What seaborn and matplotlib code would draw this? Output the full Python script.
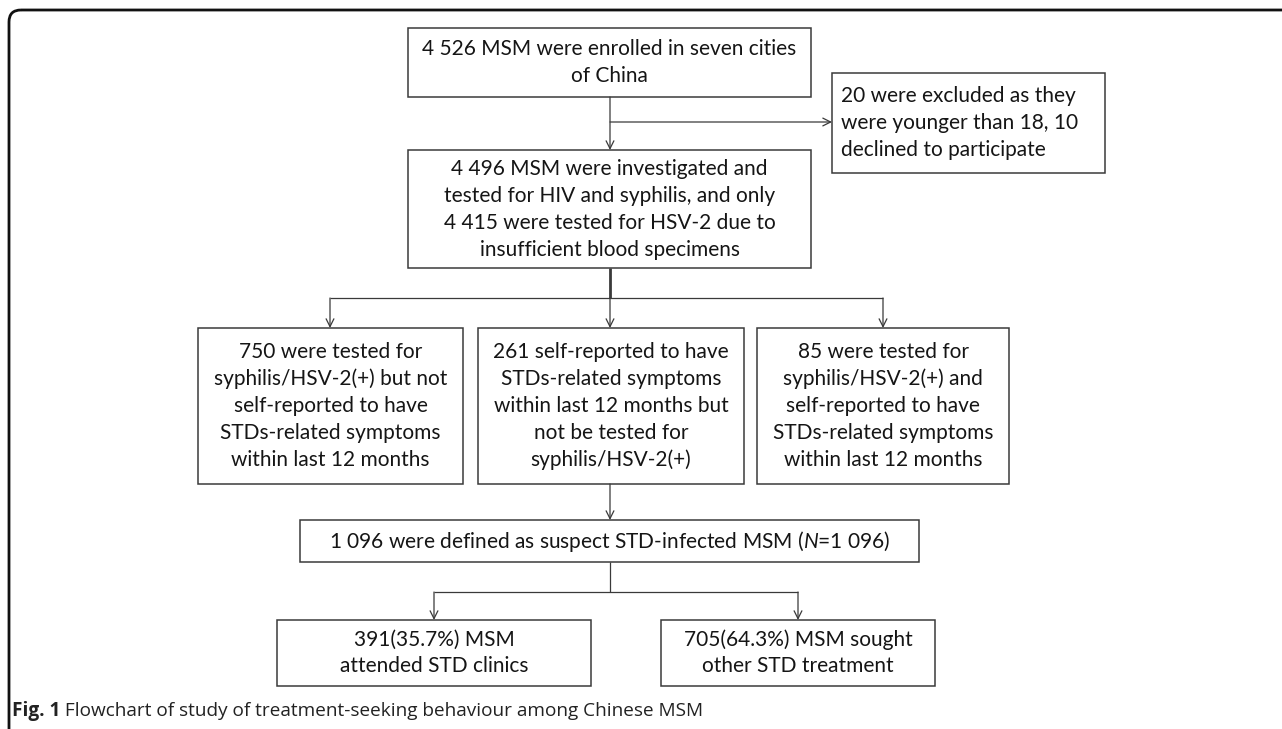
import matplotlib
matplotlib.use('Agg')
import matplotlib.pyplot as plt
import seaborn as sns
from matplotlib.patches import Rectangle, FancyBboxPatch

sns.set_style('white')
plt.rcParams['font.family'] = ['Lato', 'DejaVu Sans']
plt.rcParams['mathtext.fontset'] = 'custom'
plt.rcParams['mathtext.it'] = 'Lato:italic'
plt.rcParams['mathtext.rm'] = 'Lato'

# box texts of the flowchart
enrolled = ['4 526 MSM were enrolled in seven cities', 'of China']
excluded = ['20 were excluded as they', 'were younger than 18, 10', 'declined to participate']
investigated = ['4 496 MSM were investigated and', 'tested for HIV and syphilis, and only',
                '4 415 were tested for HSV-2 due to', 'insufficient blood specimens']
group_a = ['750 were tested for', 'syphilis/HSV-2(+) but not', 'self-reported to have',
           'STDs-related symptoms', 'within last 12 months']
group_b = ['261 self-reported to have', 'STDs-related symptoms', 'within last 12 months but',
           'not be tested for', 'syphilis/HSV-2(+)']
group_c = ['85 were tested for', 'syphilis/HSV-2(+) and', 'self-reported to have',
           'STDs-related symptoms', 'within last 12 months']
suspect = ['1 096 were defined as suspect STD-infected MSM ($\\it{N}$=1 096)']
clinics = ['391(35.7%) MSM', 'attended STD clinics']
other = ['705(64.3%) MSM sought', 'other STD treatment']
caption_bold = 'Fig. 1'
caption_rest = ' Flowchart of study of treatment-seeking behaviour among Chinese MSM'

# layout in pixels (x0, y0, x1, y1), y downward
W, H = 1282, 729
layout = {
    'enrolled': (408, 28, 811, 97),
    'excluded': (832, 73, 1105, 173),
    'investigated': (408, 150, 811, 268),
    'a': (198, 328, 463, 484),
    'b': (478, 328, 744, 484),
    'c': (757, 328, 1009, 484),
    'suspect': (300, 520, 919, 562),
    'clinics': (277, 620, 591, 686),
    'other': (661, 620, 935, 686),
}

fig = plt.figure(figsize=(W / 100, H / 100), dpi=100)
ax = fig.add_axes([0, 0, 1, 1])
ax.set_xlim(0, W)
ax.set_ylim(H, 0)
ax.axis('off')

edge = '#3a3a3a'
txt = '#151515'
fs = 15.0
line_h = 27


def box(key, lines, align='center'):
    x0, y0, x1, y1 = layout[key]
    ax.add_patch(Rectangle((x0, y0), x1 - x0, y1 - y0, fill=False, ec=edge, lw=1.1))
    yc = (y0 + y1) / 2
    n = len(lines)
    for i, s in enumerate(lines):
        y = yc + (i - (n - 1) / 2) * line_h
        if align == 'center':
            ax.text((x0 + x1) / 2, y, s, ha='center', va='center', fontsize=fs, color=txt)
        else:
            ax.text(x0 + 9, y, s, ha='left', va='center', fontsize=fs, color=txt)


def arrow(x0, y0, x1, y1):
    ax.annotate('', xy=(x1, y1), xytext=(x0, y0),
                arrowprops=dict(arrowstyle='->', lw=0.9, color=edge,
                                shrinkA=0, shrinkB=0, mutation_scale=14))


def seg(xs, ys, lw=0.9):
    ax.plot(xs, ys, color=edge, lw=lw, solid_capstyle='butt')


box('enrolled', enrolled)
box('excluded', excluded, align='left')
box('investigated', investigated)
box('a', group_a)
box('b', group_b)
box('c', group_c)
box('suspect', suspect)
box('clinics', clinics)
box('other', other)

# connectors
arrow(610, 97, 610, 150)
arrow(610, 122, 832, 122)
seg([610, 610], [268, 298], lw=2)
seg([330, 883], [298, 298])
for xa in (330, 610, 883):
    arrow(xa, 298, xa, 328)
arrow(610, 484, 610, 520)
seg([610, 610], [562, 592])
seg([434, 798], [592, 592])
for xa in (434, 798):
    arrow(xa, 592, xa, 620)

# outer frame with rounded top-left corner
ax.add_patch(FancyBboxPatch((9, 10), W + 40, H + 40,
                            boxstyle='round,pad=0,rounding_size=12',
                            fill=False, ec='#111111', lw=2.0, clip_on=True))

# caption
t1 = ax.text(12, 711, caption_bold, ha='left', va='center', fontsize=13.7,
             fontweight='bold', color='#222222', family=['Open Sans', 'DejaVu Sans'])
fig.canvas.draw()
bb = t1.get_window_extent()
x_next = ax.transData.inverted().transform((bb.x1, bb.y0))[0]
ax.text(x_next, 711, caption_rest, ha='left', va='center', fontsize=13.7,
        color='#222222', family=['Open Sans', 'DejaVu Sans'])

fig.savefig('out.png', dpi=100)
